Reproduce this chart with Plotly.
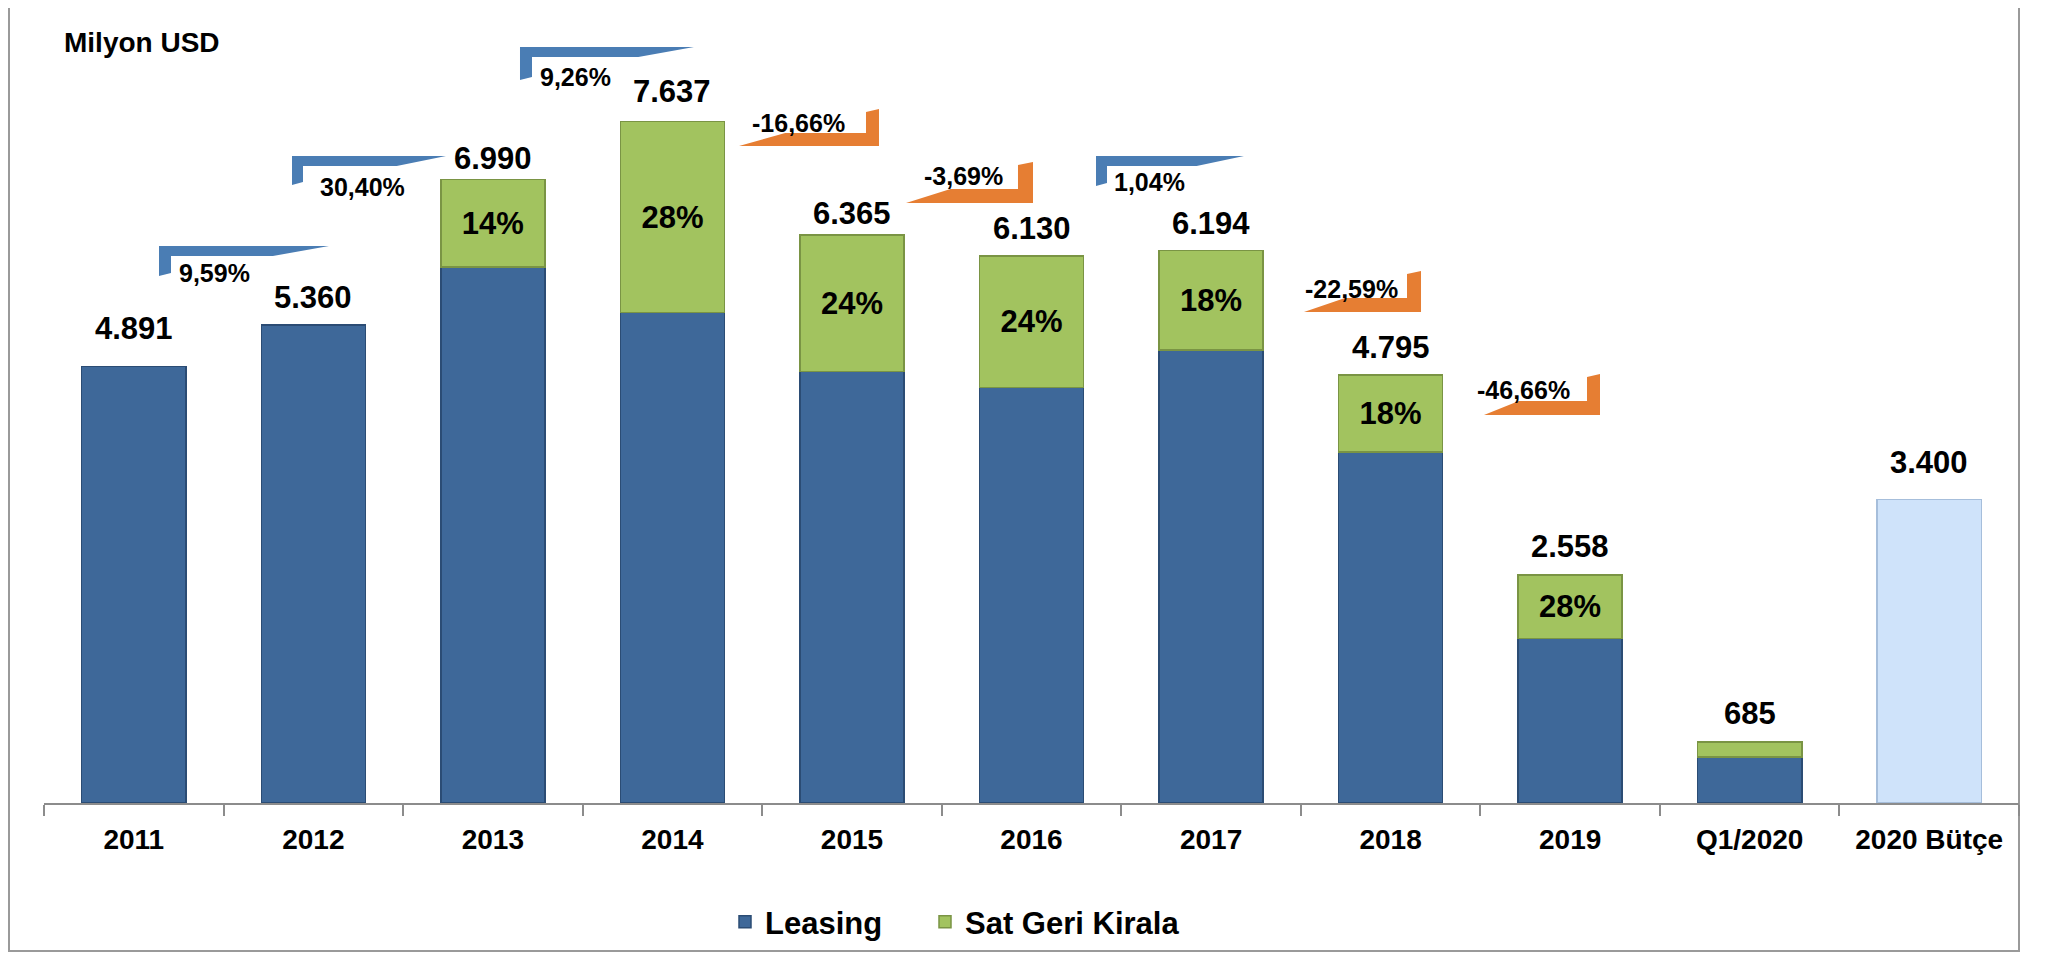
import plotly.graph_objects as go

# ---------------- data ----------------
categories = ["2011", "2012", "2013", "2014", "2015", "2016", "2017", "2018", "2019", "Q1/2020", "2020 Bütçe"]
leasing = [4891, 5360, 6011, 5499, 4837, 4659, 5079, 3932, 1842, 514, None]
sat_geri = [None, None, 979, 2138, 1528, 1471, 1115, 863, 716, 171, None]
budget = [None, None, None, None, None, None, None, None, None, None, 3400]
totals = [4891, 5360, 6990, 7637, 6365, 6130, 6194, 4795, 2558, 685, 3400]
total_labels = ["4.891", "5.360", "6.990", "7.637", "6.365", "6.130", "6.194", "4.795", "2.558", "685", "3.400"]
share_labels = ["", "", "14%", "28%", "24%", "24%", "18%", "18%", "28%", "", ""]
growth_labels = ["9,59%", "30,40%", "9,26%", "-16,66%", "-3,69%", "1,04%", "-22,59%", "-46,66%"]
growth_values = [9.59, 30.40, 9.26, -16.66, -3.69, 1.04, -22.59, -46.66]

# ---------------- style / layout constants ----------------
PAGE_W, PAGE_H, OFF = 2050, 953, 8          # page body margin of the html export
W, H = PAGE_W - OFF, PAGE_H - OFF
PLOT_L, PLOT_R, AXIS_Y = 44, 2019, 803      # page pixels
ML, MR, MT = PLOT_L - OFF, PAGE_W - PLOT_R, 0
PW, PH = PLOT_R - PLOT_L, AXIS_Y - OFF
MB = H - PH
PX_PER_UNIT = 0.08921
YMAX = PH / PX_PER_UNIT

FONT = "Liberation Sans, Arial, sans-serif"
C_LEASE, C_LEASE_LN = "#3e6899", "#2b4c74"
C_SGK, C_SGK_LN = "#a2c35f", "#7a9444"
C_BUD, C_BUD_LN = "#cfe3fa", "#a6bedb"
C_UP, C_DOWN = "#4a7db4", "#e67e33"

label_shift = [38, 27, 21, 30, 22, 28, 27, 28, 28, 28, 37]

# growth badge placement (page-pixel geometry of the decoration)
# (anchor_x, top, length, height, band, tab, frac, text_cx, text_cy)
badges = [
    (159, 246, 170, 30, 10, 12, 0.67, 214, 273),
    (292, 156, 154, 29, 10, 11, 0.68, 362, 187),
    (520, 47, 174, 33, 10, 12, 0.68, 575, 77),
    (879, 109, 140, 37, 13, 13, 0.33, 798, 123),
    (1033, 162, 127, 41, 14, 15, 0.35, 963, 176),
    (1096, 156, 148, 30, 10, 11, 0.68, 1149, 182),
    (1421, 271, 117, 41, 14, 14, 0.35, 1351, 289),
    (1600, 374, 116, 41, 14, 13, 0.30, 1523, 390),
]


def px(xp):
    return (xp - PLOT_L) / PW


def py(yp):
    return (AXIS_Y - yp) / PH


fig = go.Figure()
fig.add_trace(go.Bar(
    x=categories, y=leasing, name="Leasing", legend="legend",
    marker=dict(color=C_LEASE, line=dict(color=C_LEASE_LN, width=1.5)),
))
fig.add_trace(go.Bar(
    x=categories, y=sat_geri, name="Sat Geri Kirala", legend="legend2",
    text=share_labels, textposition="inside", insidetextanchor="middle",
    textangle=0, constraintext="none",
    textfont=dict(family=FONT, size=31, color="black", weight="bold"),
    marker=dict(color=C_SGK, line=dict(color=C_SGK_LN, width=1.5)),
))
fig.add_trace(go.Bar(
    x=categories, y=budget, name="2020 Bütçe", showlegend=False,
    marker=dict(color=C_BUD, line=dict(color=C_BUD_LN, width=1.5)),
))

annotations = []
for i, (t, lab, s) in enumerate(zip(totals, total_labels, label_shift)):
    annotations.append(dict(
        x=i, y=t, xref="x", yref="y", text=lab, showarrow=False,
        xanchor="center", yanchor="middle", yshift=s,
        font=dict(family=FONT, size=31, color="black", weight="bold"),
    ))

shapes = []
for (ax, top, ln, h, band, tab, frac, tcx, tcy), v, lab in zip(badges, growth_values, growth_labels):
    if v >= 0:
        pts = [(ax, top), (ax + ln, top), (ax + frac * ln, top + band), (ax + tab, top + band),
               (ax + tab, top + h - 3), (ax, top + h)]
        col = C_UP
    else:
        b = top + h
        pts = [(ax - tab, top + 3), (ax, top), (ax, b), (ax - ln, b),
               (ax - ln + frac * ln, b - band), (ax - tab, b - band)]
        col = C_DOWN
    path = "M " + " L ".join(f"{px(x):.5f},{py(y):.5f}" for x, y in pts) + " Z"
    shapes.append(dict(type="path", path=path, xref="paper", yref="paper",
                       fillcolor=col, line=dict(width=0)))
    annotations.append(dict(
        x=px(tcx), y=py(tcy), xref="paper", yref="paper", text=lab, showarrow=False,
        xanchor="center", yanchor="middle",
        font=dict(family=FONT, size=25, color="black", weight="bold"),
    ))

annotations.append(dict(
    x=px(62), y=py(43), xref="paper", yref="paper", text="Milyon USD", showarrow=False,
    xanchor="left", yanchor="middle",
    font=dict(family=FONT, size=28, color="black", weight="bold"),
))

# outer frame
shapes.append(dict(type="rect", xref="paper", yref="paper",
                   x0=px(9), x1=px(2019), y0=py(951), y1=py(-3),
                   line=dict(color="#9a9a9a", width=2), fillcolor="rgba(0,0,0,0)", layer="below"))

legend_style = dict(orientation="h", xanchor="left", yanchor="middle", y=py(922),
                    font=dict(family=FONT, size=31, color="black", weight="bold"),
                    itemwidth=30, bgcolor="rgba(0,0,0,0)")

fig.update_layout(
    width=W, height=H,
    margin=dict(l=ML, r=MR, t=MT, b=MB, pad=0),
    paper_bgcolor="white", plot_bgcolor="white",
    barmode="stack", bargap=0.42,
    font=dict(family=FONT, color="black"),
    showlegend=True,
    legend=dict(x=px(725), **legend_style),
    legend2=dict(x=px(925), **legend_style),
    xaxis=dict(type="category", range=[-0.5, 10.5], autorange=False,
               showline=True, linecolor="#8c8c8c", linewidth=2,
               ticks="outside", tickson="boundaries", ticklen=11, tickcolor="#8c8c8c", tickwidth=1.5,
               showgrid=False, zeroline=False, ticklabelstandoff=10,
               tickfont=dict(family=FONT, size=28, color="black", weight="bold")),
    yaxis=dict(range=[0, YMAX], autorange=False, visible=False, showgrid=False, zeroline=False),
    annotations=annotations, shapes=shapes,
)

fig.write_html("out.html")
